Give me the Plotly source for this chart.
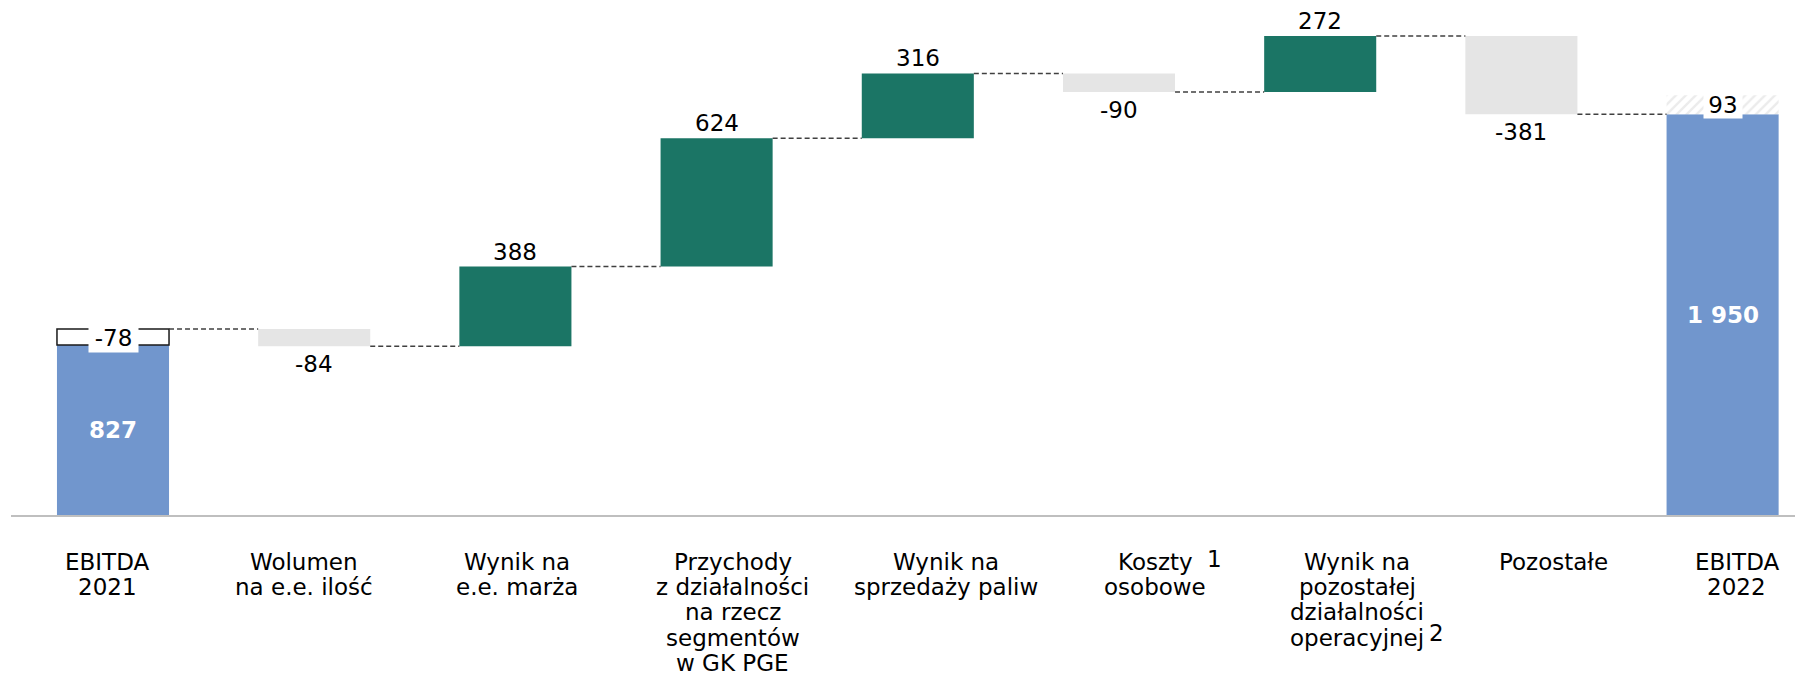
import plotly.graph_objects as go

# ---------------- data ----------------
categories = [
    "EBITDA\n2021",
    "Wolumen\nna e.e. ilość",
    "Wynik na\ne.e. marża",
    "Przychody\nz działalności\nna rzecz\nsegmentów\nw GK PGE",
    "Wynik na\nsprzedaży paliw",
    "Koszty\nosobowe",
    "Wynik na\npozostałej\ndziałalności\noperacyjnej",
    "Pozostałe",
    "EBITDA\n2022",
]
footnotes = ["", "", "", "", "", "1", "2", "", ""]
start_value = 827
start_adjustment = -78
deltas = [-84, 388, 624, 316, -90, 272, -381]
end_value = 1950
end_adjustment = 93

# ---------------- style ----------------
BLUE = "#7196CD"
GREEN = "#1B7565"
GREY = "#E5E5E5"
FONT = "DejaVu Sans"
FS = 23
BAR_W = 0.557
label_xshift = [-6, -10, 2, 16, 28, 36, 37, 32, 14]   # px offsets of category text boxes
foot_xshift = [0, 0, 0, 0, 0, 95, 116, 0, 0]
foot_yshift = [0, 0, 0, 0, 0, 3, 5, 0, 0]
LINE1 = 47
LINE_SP = 25.2

n = len(categories)
xs = list(range(n))

# running levels
level = start_value - start_adjustment
bases, tops, bottoms = [], [], []
for d in deltas:
    bases.append(level)
    tops.append(max(level, level + d))
    bottoms.append(min(level, level + d))
    level += d

fig = go.Figure()

# totals
fig.add_trace(go.Bar(x=[0, n - 1], y=[start_value, end_value], base=[0, 0],
                     width=BAR_W, marker=dict(color=BLUE, line=dict(width=0)),
                     hoverinfo="skip"))
# start adjustment box
fig.add_trace(go.Bar(x=[0], y=[abs(start_adjustment)], base=[start_value],
                     width=BAR_W, marker=dict(color="white", line=dict(color="#1a1a1a", width=1.5)),
                     hoverinfo="skip"))
# end adjustment (hatched)
fig.add_trace(go.Bar(x=[n - 1], y=[end_adjustment], base=[end_value],
                     width=BAR_W,
                     marker=dict(color="white", line=dict(width=0),
                                 pattern=dict(shape="/", fgcolor="#D9D9D9", bgcolor="white",
                                              size=7, solidity=0.35)),
                     hoverinfo="skip"))
# deltas
fig.add_trace(go.Bar(x=xs[1:n - 1], y=deltas, base=bases, width=BAR_W,
                     marker=dict(color=[GREEN if d > 0 else GREY for d in deltas], line=dict(width=0)),
                     hoverinfo="skip"))

# connectors
ends = [start_value - start_adjustment] + [b + d for b, d in zip(bases, deltas)]
cx, cy = [], []
for i, lv in enumerate(ends):
    cx += [i + BAR_W / 2, i + 1 - BAR_W / 2, None]
    cy += [lv, lv, None]
fig.add_trace(go.Scatter(x=cx, y=cy, mode="lines",
                         line=dict(color="#404040", width=1.5, dash="5px,3px"),
                         hoverinfo="skip"))

ann = []
# delta value labels
for i, d in enumerate(deltas):
    x = i + 1
    if d > 0:
        ann.append(dict(x=x, y=tops[i], xref="x", yref="y", text=str(d), showarrow=False,
                        yanchor="bottom", yshift=1, borderpad=0,
                        font=dict(family=FONT, size=FS, color="#000")))
    else:
        ann.append(dict(x=x, y=bottoms[i], xref="x", yref="y", text=str(d), showarrow=False,
                        yanchor="top", yshift=-4, borderpad=0,
                        font=dict(family=FONT, size=FS, color="#000")))

def fmt(v):
    return f"{v:,}".replace(",", " ")

# totals labels
for x, v in [(0, start_value), (n - 1, end_value)]:
    ann.append(dict(x=x, y=v / 2, xref="x", yref="y", text="<b>" + fmt(v) + "</b>", showarrow=False,
                    yanchor="middle", font=dict(family=FONT, size=FS, color="white")))
# adjustment labels
ann.append(dict(x=0, y=start_value + abs(start_adjustment) / 2, xref="x", yref="y",
                text=str(start_adjustment), showarrow=False, yanchor="middle",
                bgcolor="white", width=49, height=29, borderpad=0,
                font=dict(family=FONT, size=FS, color="#000")))
ann.append(dict(x=n - 1, y=end_value + end_adjustment / 2, xref="x", yref="y",
                text=str(end_adjustment), showarrow=False, yanchor="middle",
                bgcolor="white", width=38, height=26, borderpad=0,
                font=dict(family=FONT, size=FS, color="#000")))

# category labels (one annotation per line)
for i, lab in enumerate(categories):
    lines = lab.split("\n")
    for k, line in enumerate(lines):
        ann.append(dict(x=i, y=0, xref="x", yref="paper", text=line, showarrow=False,
                        xanchor="center", yanchor="middle",
                        xshift=label_xshift[i], yshift=-(LINE1 + k * LINE_SP),
                        font=dict(family=FONT, size=FS, color="#000")))
    if footnotes[i]:
        k = 0 if i == 5 else len(lines) - 1
        ann.append(dict(x=i, y=0, xref="x", yref="paper", text=footnotes[i], showarrow=False,
                        xanchor="center", yanchor="middle",
                        xshift=foot_xshift[i],
                        yshift=-(LINE1 + k * LINE_SP) + foot_yshift[i],
                        font=dict(family=FONT, size=FS, color="#000")))

# the page body adds an 8px margin; the figure is sized/placed to compensate
PAGE_OFF = 8
W, H = 1803 - PAGE_OFF, 675 - PAGE_OFF
px_per_unit = 201.2
center0 = 113 - PAGE_OFF
left_px, right_px = 11 - PAGE_OFF, 1800 - PAGE_OFF
plot_h = 515 - PAGE_OFF
fig.update_layout(
    width=W, height=H,
    margin=dict(l=0, r=0, t=0, b=H - plot_h),
    paper_bgcolor="white", plot_bgcolor="white",
    showlegend=False, barmode="overlay",
    annotations=ann,
    xaxis=dict(domain=[left_px / W, right_px / W],
               range=[(left_px - center0) / px_per_unit, (right_px - center0) / px_per_unit],
               showticklabels=False, showgrid=False, zeroline=False,
               showline=True, linecolor="#BFBFBF", linewidth=2, fixedrange=True),
    yaxis=dict(range=[0, plot_h / 0.2055], visible=False, showgrid=False, zeroline=False,
               fixedrange=True),
)

fig.write_html("out.html", config={"displayModeBar": False})
